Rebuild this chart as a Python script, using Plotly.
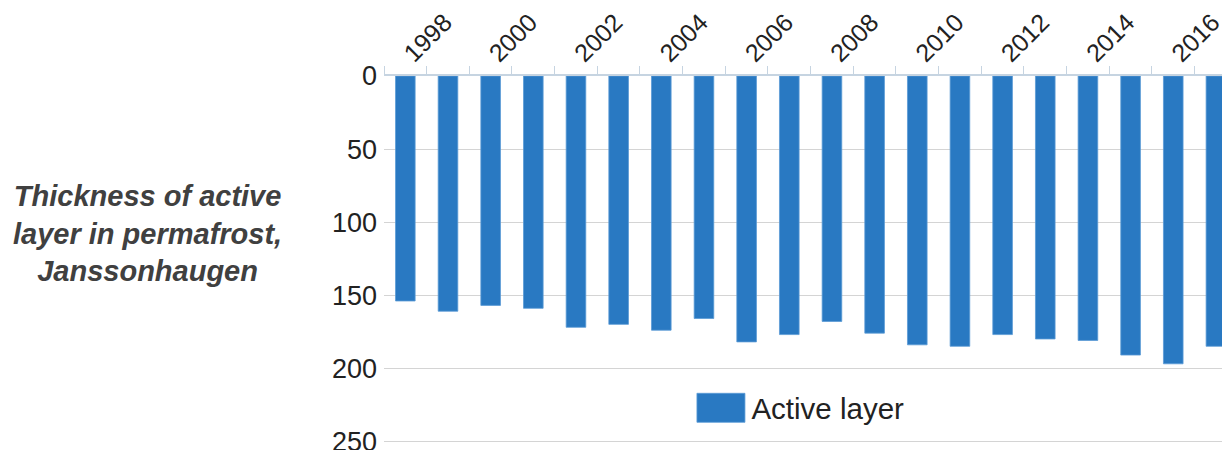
import plotly.graph_objects as go

years = list(range(1998, 2018))
active_layer = [154, 161, 157, 159, 172, 170, 174, 166, 182, 177,
                168, 176, 184, 185, 177, 180, 181, 191, 197, 185]
year_ticks = [1998, 2000, 2002, 2004, 2006, 2008, 2010, 2012, 2014, 2016]
y_ticks = [0, 50, 100, 150, 200, 250]

FONT = "Liberation Sans, Arial, sans-serif"
AXIS_COL = "#c6d4e1"

fig = go.Figure()
fig.add_trace(go.Bar(
    x=years, y=active_layer, name="Active layer",
    marker=dict(color="#2979c2", line=dict(color="#5b9bd5", width=0.8)),
    width=0.46,
))

# page body has an 8px default margin, so the figure is sized to fit the window
fig.update_layout(
    width=1222, height=442,
    margin=dict(l=376, r=0, t=68, b=7, autoexpand=False),
    paper_bgcolor="white", plot_bgcolor="white",
    font=dict(family=FONT, size=27, color="#222222"),
    showlegend=True,
    legend=dict(
        x=0.3575, y=0.095, xanchor="left", yanchor="middle",
        bgcolor="rgba(0,0,0,0)", font=dict(size=29.5, color="#222222"),
        itemwidth=55,
    ),
    xaxis=dict(
        side="top", range=[1997.5, 2017.33], automargin=False,
        tickmode="array", tickvals=year_ticks,
        ticktext=[str(y) for y in year_ticks],
        tickangle=-45, ticks="",
        ticklabelstandoff=-3,
        showline=True, linecolor=AXIS_COL, linewidth=1.5,
        showgrid=False, zeroline=False,
        minor=dict(tickmode="linear", tick0=1997.5, dtick=1,
                   ticks="outside", ticklen=8, tickcolor=AXIS_COL,
                   tickwidth=1, showgrid=False),
        tickfont=dict(size=25, color="#222222"),
    ),
    yaxis=dict(
        range=[251.2, 0], autorange=False, automargin=False,
        tickmode="array", tickvals=y_ticks,
        showgrid=True, gridcolor="#d4d4d4", gridwidth=1,
        zeroline=False, showline=False, ticks="",
        ticklabelstandoff=6, ticklabeloverflow="allow",
        tickfont=dict(size=27, color="#222222"),
    ),
    annotations=[dict(
        text="<b><i>Thickness of active<br>layer in permafrost,<br>Janssonhaugen</i></b>",
        xref="paper", yref="paper", x=-0.28, y=0.57,
        xanchor="center", yanchor="middle", align="center",
        showarrow=False,
        font=dict(family=FONT, size=29, color="#404040"),
    )],
)

post = """
document.querySelectorAll('.legendpoints path').forEach(function(p){
  p.setAttribute('d','M26,14.5H-22V-14.5H26Z');
});
"""
fig.write_html("out.html", post_script=post)
